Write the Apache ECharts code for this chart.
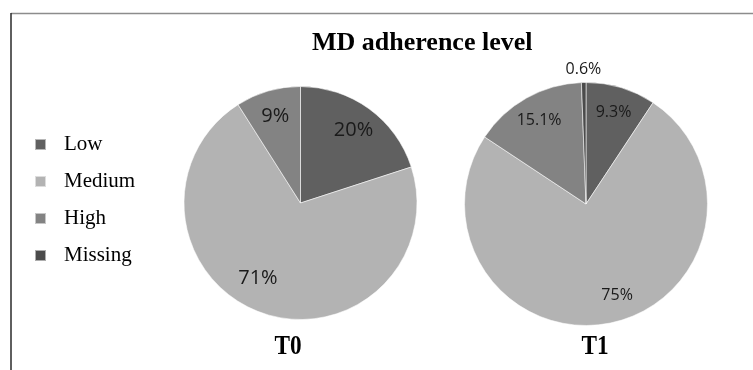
<!DOCTYPE html>
<html>
<head>
<meta charset="utf-8">
<title>MD adherence level</title>
<script src="https://cdn.jsdelivr.net/npm/echarts@6/dist/echarts.min.js"></script>
<style>
  html, body { margin: 0; padding: 0; background: #fff; }
  #chart { width: 753px; height: 370px; }
</style>
</head>
<body>
<div id="chart"></div>
<script>
// Adherence categories, shared by both time points
const categories = ['Low', 'Medium', 'High', 'Missing'];
// Percentage of participants per category (null = not reported)
const t0Values = [20, 71, 9, null];
const t1Values = [9.3, 75, 15.1, 0.6];
const panelNames = ['T0', 'T1'];
const chartTitle = 'MD adherence level';

const sliceColors = {
  Low: '#606060',
  Medium: '#b3b3b3',
  High: '#838383',
  Missing: '#4b4b4b'
};

function toData(values) {
  return categories
    .map((name, i) => ({ name: name, value: values[i] }))
    .filter(d => d.value != null);
}

const pies = [
  { values: t0Values, center: [300.5, 203], r: 116.5, labelR0: 58, fontSize: 20,
    tweaks: { Medium: { offset: [-12, -10] } } },
  { values: t1Values, center: [586, 204], r: 121.5, labelR0: 64, fontSize: 16,
    tweaks: { Medium: { offset: [12, -2] }, Missing: 'outside' } }
];

const series = [];
// filled slices
pies.forEach(p => {
  series.push({
    type: 'pie',
    center: p.center,
    radius: [0, p.r],
    startAngle: 90,
    clockwise: true,
    silent: true,
    label: { show: false },
    labelLine: { show: false },
    itemStyle: {
      color: params => sliceColors[params.name],
      borderColor: 'rgba(255,255,255,0.55)',
      borderWidth: 1
    },
    data: toData(p.values)
  });
});
// percentage labels, set further out than the default inner position
pies.forEach(p => {
  const data = toData(p.values).map(d => {
    const t = p.tweaks[d.name];
    if (t === 'outside') {
      return Object.assign({}, d, {
        label: { position: 'outside', distanceToLabelLine: 0 },
        labelLine: { show: false, length: 13, length2: 0 }
      });
    }
    if (t) {
      return Object.assign({}, d, { label: { offset: t.offset } });
    }
    return d;
  });
  series.push({
    type: 'pie',
    center: p.center,
    radius: [p.labelR0, p.r],
    startAngle: 90,
    clockwise: true,
    silent: true,
    avoidLabelOverlap: false,
    itemStyle: { color: 'rgba(0,0,0,0)' },
    label: {
      show: true,
      position: 'inside',
      formatter: '{c}%',
      fontFamily: 'Open Sans',
      fontSize: p.fontSize,
      color: '#1a1a1a'
    },
    labelLine: { show: false },
    labelLayout: params => {
      const item = data[params.dataIndex];
      if (item && item.label && item.label.position === 'outside') {
        return { dx: params.labelRect.width / 2 };
      }
      return {};
    },
    data: data
  });
});

// bold serif captions
function caption(text, x, y, size, squeeze, align) {
  return {
    type: 'text', x: x, y: y, scaleX: squeeze, silent: true,
    style: {
      text: text,
      font: 'bold ' + size + 'px "Liberation Serif"',
      fill: '#000',
      textAlign: align || 'center',
      textVerticalAlign: 'middle'
    }
  };
}

const chart = echarts.init(document.getElementById('chart'), null, { renderer: 'canvas' });
chart.setOption({
  animation: false,
  backgroundColor: '#ffffff',
  legend: {
    orient: 'vertical',
    left: 34,
    top: 134,
    padding: 0,
    icon: 'rect',
    itemWidth: 11,
    itemHeight: 11,
    itemGap: 16,
    selectedMode: false,
    data: categories,
    textStyle: {
      fontFamily: 'Liberation Serif',
      fontSize: 21,
      color: '#000',
      padding: [0, 0, 0, 13]
    }
  },
  graphic: [
    { type: 'line', shape: { x1: 11, y1: 13.5, x2: 753, y2: 13.5 },
      style: { stroke: '#8c8c8c', lineWidth: 1.5 }, silent: true },
    { type: 'line', shape: { x1: 11, y1: 13, x2: 11, y2: 370 },
      style: { stroke: '#2a2a2a', lineWidth: 1.5 }, silent: true },
    caption(chartTitle, 312, 43, 26, 1, 'left'),
    caption(panelNames[0], 288, 347, 27, 0.86),
    caption(panelNames[1], 595, 347, 27, 0.86)
  ],
  series: series
});
</script>
</body>
</html>
